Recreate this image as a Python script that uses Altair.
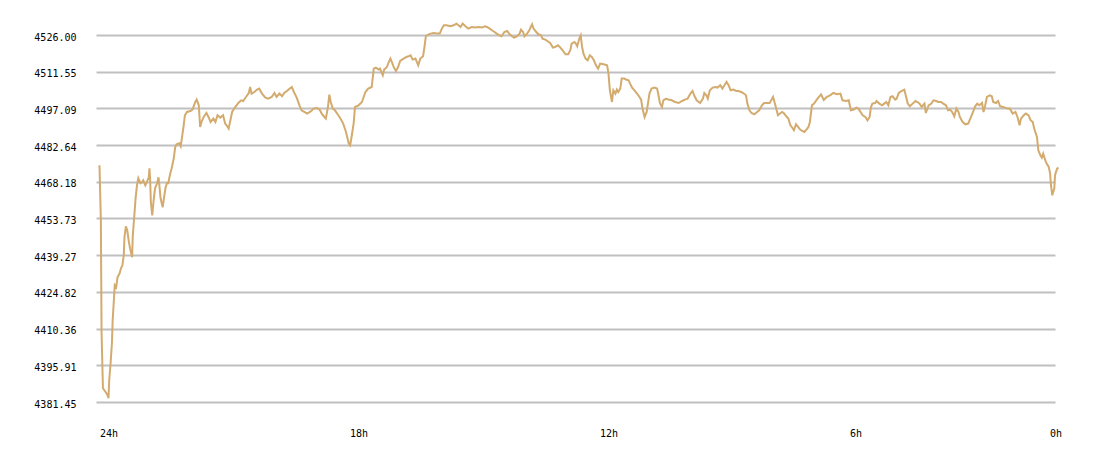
import altair as alt
import pandas as pd

# minutes elapsed since the start of the 24h window
minutes = [
    0, 2, 3, 5, 8, 11, 13, 14, 16, 18, 19, 21, 22, 24, 26, 29, 31, 33, 35, 36,
    38, 40, 42, 44, 47, 48, 50, 52, 54, 56, 59, 61, 63, 66, 68, 71, 72, 73, 74, 76,
    78, 80, 83, 85, 86, 88, 91, 93, 95, 97, 99, 102, 104, 107, 109, 111, 115, 117,
    121, 123, 126, 131, 134, 138, 140, 143, 145, 147, 150, 154, 157, 160, 164, 167,
    170, 174, 178, 181, 183, 186, 188, 191, 195, 200, 204, 207, 211, 215, 217, 219,
    223, 227, 230, 234, 239, 243, 248, 252, 255, 259, 263, 266, 270, 274, 277, 280,
    284, 288, 291, 295, 299, 303, 306, 308, 313, 317, 320, 324, 326, 329, 331, 333,
    336, 339, 343, 347, 351, 355, 359, 361, 363, 366, 368, 373, 378, 383, 387, 392,
    395, 398, 402, 404, 408, 410, 414, 416, 419, 421, 424, 427, 430, 433, 438, 442,
    445, 448, 451, 455, 457, 459, 462, 466, 468, 470, 474, 477, 481, 486, 490, 493,
    496, 500, 505, 510, 514, 517, 520, 523, 527, 531, 536, 541, 546, 551, 555, 558,
    562, 565, 569, 572, 576, 579, 583, 587, 590, 594, 597, 601, 605, 607, 610, 612,
    615, 619, 621, 623, 625, 629, 632, 636, 638, 642, 645, 649, 653, 656, 660, 663,
    667, 671, 675, 678, 680, 684, 686, 688, 691, 693, 695, 697, 700, 703, 706, 709,
    712, 715, 718, 721, 726, 731, 733, 735, 738, 740, 743, 745, 747, 750, 752, 756,
    758, 762, 764, 767, 771, 776, 780, 782, 785, 788, 792, 795, 799, 803, 805, 807,
    810, 812, 816, 819, 824, 829, 834, 839, 843, 847, 851, 854, 857, 860, 865, 869,
    871, 874, 876, 879, 883, 887, 890, 894, 897, 900, 903, 906, 909, 913, 917, 920,
    924, 927, 931, 933, 936, 939, 943, 947, 950, 954, 957, 961, 965, 968, 970, 972,
    974, 977, 980, 983, 986, 989, 992, 995, 997, 1000, 1003, 1006, 1009, 1012, 1015,
    1018, 1021, 1023, 1026, 1029, 1033, 1036, 1039, 1043,
    1047, 1052, 1057, 1062, 1067, 1070, 1075, 1079, 1082, 1086, 1090, 1093, 1096,
    1099, 1103, 1106, 1109, 1111, 1113, 1117, 1119, 1123, 1127, 1130, 1133, 1136,
    1139, 1142, 1146, 1148, 1151, 1155, 1159, 1161, 1164, 1167, 1171, 1175, 1178,
    1181, 1184, 1188, 1190, 1194, 1198, 1201, 1205, 1208, 1212, 1215, 1219, 1222,
    1225, 1228, 1231, 1234, 1237, 1239, 1243, 1247, 1251, 1254, 1258, 1261, 1264,
    1267, 1271, 1273, 1275, 1278, 1282, 1285, 1287, 1291, 1294, 1297, 1301, 1304,
    1308, 1311, 1315, 1319, 1322, 1325, 1327, 1331, 1334, 1338, 1341, 1344, 1346,
    1350, 1352, 1355, 1357, 1359, 1362, 1364, 1367, 1369, 1370, 1372, 1375, 1376,
    1379, 1381,
]

prices = [
    4474.68, 4453.02, 4408.91, 4386.85, 4385.67, 4384.49, 4382.91, 4390.00, 4396.70, 4404.97,
    4413.63, 4422.69, 4427.42, 4426.63, 4430.57, 4432.14, 4434.11, 4435.29, 4439.23, 4446.32,
    4450.66, 4449.08, 4445.14, 4441.99, 4438.45, 4447.11, 4454.20, 4461.68, 4466.80, 4469.56,
    4467.59, 4467.99, 4468.77, 4466.80, 4467.99, 4469.96, 4473.50, 4468.77, 4460.11, 4454.99,
    4460.90, 4465.62, 4467.59, 4469.96, 4467.59, 4461.68, 4458.14, 4462.08, 4465.62, 4467.59,
    4467.59, 4471.53, 4473.50, 4477.44, 4481.77, 4482.95, 4483.35, 4482.17,
    4489.77, 4494.37, 4495.68, 4496.07, 4496.62, 4499.61, 4500.56, 4498.31, 4489.77, 4491.74,
    4493.71, 4495.28, 4493.71, 4491.74, 4493.08, 4491.74, 4494.37, 4493.47, 4494.37, 4491.11,
    4490.44, 4489.14, 4491.74, 4495.68, 4497.41, 4499.22, 4500.28, 4500.01, 4501.58, 4503.16,
    4505.52, 4502.92, 4503.55, 4504.50, 4504.89, 4502.92, 4501.35, 4500.95, 4501.58, 4503.16,
    4501.58, 4502.92, 4501.86, 4503.16, 4503.95, 4504.89, 4505.52, 4503.55, 4501.35, 4498.31,
    4496.34, 4495.68, 4495.05, 4495.68, 4496.34, 4497.01, 4497.25, 4496.62, 4495.05, 4493.71,
    4493.08, 4497.64, 4502.53, 4499.61, 4497.01, 4496.34, 4494.77, 4493.08, 4491.11, 4487.80,
    4483.23, 4482.56, 4485.83, 4491.11, 4497.64, 4498.31, 4499.61, 4503.55, 4504.89, 4505.52,
    4512.77, 4513.16, 4512.37, 4512.77, 4510.13, 4512.37, 4513.40, 4514.97, 4516.71, 4515.37,
    4513.16, 4511.82, 4513.40, 4515.76, 4516.71, 4517.34, 4517.61, 4518.01, 4516.31, 4516.71,
    4515.37, 4514.07, 4516.71, 4517.61, 4521.28, 4525.49, 4526.28, 4526.55, 4526.79, 4526.55,
    4526.55, 4528.52, 4529.82, 4529.82, 4529.43, 4529.82, 4530.49, 4529.82, 4529.15, 4530.49,
    4529.43, 4528.52, 4529.15, 4528.92, 4529.15, 4528.92, 4529.43, 4529.15, 4528.52, 4527.85,
    4527.18, 4526.55, 4525.88, 4525.49, 4527.18, 4527.58, 4526.55, 4525.49, 4524.98, 4525.49,
    4526.55, 4528.13, 4527.18, 4525.49, 4526.28, 4527.85, 4529.15, 4530.22, 4528.52, 4527.18,
    4526.28, 4525.88, 4524.58, 4524.19, 4523.64, 4522.85, 4521.04, 4521.28, 4521.95, 4521.28,
    4519.98, 4518.40, 4518.40, 4519.98, 4522.62, 4523.25, 4522.62, 4521.55, 4524.58, 4525.88,
    4521.28, 4518.68, 4516.71, 4516.04, 4518.01, 4517.34, 4516.04, 4514.07, 4512.77, 4514.74,
    4514.46, 4514.07, 4510.80, 4504.22, 4499.61, 4504.22, 4502.92, 4504.50, 4503.55, 4504.89,
    4508.83, 4508.83, 4508.44, 4508.16, 4506.86, 4505.29, 4503.95, 4502.25, 4500.56, 4497.01,
    4493.71, 4495.68, 4502.92, 4504.89, 4505.29, 4504.89, 4502.25, 4499.22, 4497.64, 4500.28,
    4500.95, 4500.56, 4500.28, 4499.61, 4499.22, 4500.01, 4500.56, 4500.95, 4502.92, 4503.95,
    4501.86, 4500.28, 4499.22, 4500.95, 4503.16, 4502.25, 4500.95, 4504.22, 4505.29, 4505.52,
    4505.29, 4506.19, 4504.89, 4506.19, 4507.49, 4506.19, 4504.22, 4504.50, 4503.95, 4503.95,
    4503.55, 4503.16, 4502.25, 4498.98, 4496.34, 4495.28, 4494.77, 4495.68, 4496.34, 4498.31,
    4499.22, 4499.22, 4499.22, 4500.56, 4501.58, 4499.61, 4497.64, 4494.37, 4495.05, 4495.68,
    4495.05, 4493.98, 4493.08, 4490.44, 4489.77, 4488.47, 4490.83, 4489.77, 4488.74, 4488.19,
    4487.80, 4488.74, 4489.77, 4491.74, 4498.31, 4498.98, 4500.56, 4501.58, 4502.65, 4500.40,
    4501.58, 4502.25, 4503.16, 4502.65, 4502.92, 4500.28, 4500.01, 4500.28, 4496.34, 4496.62,
    4497.41, 4497.01, 4495.68, 4494.37, 4493.71, 4492.41, 4493.71, 4497.64, 4498.98, 4499.22,
    4500.01, 4498.98, 4498.31, 4498.98, 4499.61, 4498.31, 4501.58, 4501.86, 4500.56, 4500.95,
    4503.16, 4503.95, 4504.50, 4502.25, 4498.98, 4497.92, 4498.98, 4500.01, 4499.61, 4498.98,
    4497.64, 4498.98, 4495.28, 4498.31, 4498.98, 4500.28, 4500.01, 4499.61, 4499.61, 4498.98,
    4498.31, 4496.34, 4496.62, 4495.68, 4493.98, 4497.01, 4495.68, 4493.71, 4491.74, 4490.83,
    4491.11, 4493.08, 4495.68, 4497.92, 4498.98, 4498.31, 4499.22, 4495.68, 4497.64, 4501.58,
    4502.25, 4501.86, 4499.61, 4499.22, 4500.01, 4497.92, 4497.64, 4497.41, 4497.01, 4497.01,
    4495.05, 4495.68, 4493.71, 4490.44, 4493.08, 4494.37, 4495.05, 4494.37, 4492.41, 4491.74,
    4489.14, 4485.83, 4480.59, 4478.62, 4477.71, 4479.29, 4476.65, 4475.35, 4474.01, 4471.41,
    4467.47, 4462.87, 4465.51, 4470.74, 4473.38, 4473.78,
]

y_ticks = [4381.45, 4395.91, 4410.36, 4424.82, 4439.27, 4453.73,
           4468.18, 4482.64, 4497.09, 4511.55, 4526.00]
x_tick_values = [0, 360, 720, 1080, 1368]
x_tick_labels = ["24h", "18h", "12h", "6h", "0h"]

df = pd.DataFrame({"minute": minutes, "price": prices})

label_expr = "".join(
    f"datum.value == {v} ? '{t}' : " for v, t in zip(x_tick_values, x_tick_labels)
) + "''"

FONT = "DejaVu Sans Mono"

chart = (
    alt.Chart(df)
    .mark_line(color="#D3AB6E", strokeWidth=2, interpolate="linear")
    .encode(
        x=alt.X(
            "minute:Q",
            scale=alt.Scale(domain=[-5, 1376], nice=False, zero=False),
            axis=alt.Axis(
                values=x_tick_values,
                labelExpr=label_expr,
                grid=False,
                ticks=False,
                domain=False,
                tickSize=0,
                labelAlign="left",
                labelBaseline="top",
                labelPadding=26,
                labelFont=FONT,
                labelFontSize=10,
                labelColor="#000000",
                labelFlush=False,
                labelOverlap=False,
                title=None,
            ),
        ),
        y=alt.Y(
            "price:Q",
            scale=alt.Scale(domain=[4381.45, 4526.00], nice=False, zero=False),
            axis=alt.Axis(
                values=y_ticks,
                format=".2f",
                grid=True,
                gridColor="#C0C0C0",
                gridWidth=2,
                ticks=False,
                domain=False,
                tickSize=0,
                labelPadding=20,
                labelFont=FONT,
                labelFontSize=10,
                labelColor="#000000",
                labelOffset=2,
                labelFlush=False,
                labelOverlap=False,
                title=None,
            ),
        ),
    )
    .properties(
        width=959,
        height=367,
        autosize=alt.AutoSizeParams(type="none"),
        padding={"left": 88, "top": 27, "right": 30, "bottom": 40},
        background="#FFFFFF",
    )
    .configure_view(stroke=None)
)

chart.save("out.html", embed_options={"renderer": "svg", "actions": False})
